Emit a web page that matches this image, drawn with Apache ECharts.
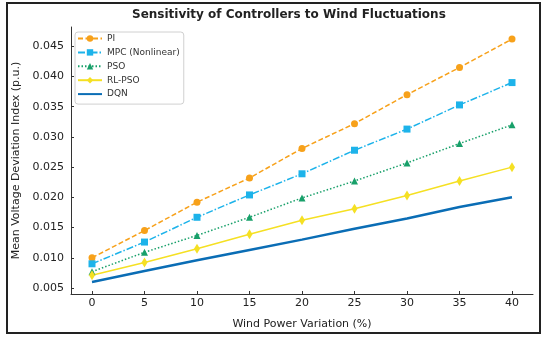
<!DOCTYPE html>
<html>
<head>
<meta charset="utf-8">
<script src="https://cdn.jsdelivr.net/npm/echarts@6/dist/echarts.min.js"></script>
<style>html,body{margin:0;padding:0;background:#fff}#c{width:550px;height:341px}</style>
</head>
<body>
<div id="c"></div>
<script>
const windVariation = [0, 5, 10, 15, 20, 25, 30, 35, 40];
const piValues     = [0.0100, 0.0145, 0.0192, 0.0232, 0.0281, 0.0322, 0.0370, 0.0415, 0.0462];
const mpcValues    = [0.0090, 0.0126, 0.0167, 0.0204, 0.0239, 0.0278, 0.0313, 0.0353, 0.0390];
const psoValues    = [0.0077, 0.0109, 0.0137, 0.0167, 0.0199, 0.0227, 0.0257, 0.0289, 0.0320];
const rlpsoValues  = [0.0071, 0.0092, 0.0115, 0.0139, 0.0162, 0.0181, 0.0203, 0.0227, 0.0250];
const dqnValues    = [0.0060, 0.0078, 0.0096, 0.0113, 0.0130, 0.0148, 0.0165, 0.0184, 0.0200];
const xTicks = [0, 5, 10, 15, 20, 25, 30, 35, 40];
const yTicks = [0.005, 0.010, 0.015, 0.020, 0.025, 0.030, 0.035, 0.040, 0.045];
const seriesNames = ['PI', 'MPC (Nonlinear)', 'PSO', 'RL-PSO', 'DQN'];

const FONT = 'DejaVu Sans';
const pair = v => windVariation.map((x, i) => [x, v[i]]);

const chart = echarts.init(document.getElementById('c'), null, {renderer: 'canvas'});
chart.setOption({
  animation: false,
  backgroundColor: '#fff',
  title: {
    text: 'Sensitivity of Controllers to Wind Fluctuations',
    left: 132, top: 9, padding: 0,
    textStyle: {fontFamily: FONT, fontSize: 12, fontWeight: 'bold', color: '#222'}
  },
  graphic: [{
    type: 'rect', shape: {x: 7, y: 3, width: 533, height: 330},
    style: {fill: 'none', stroke: '#222', lineWidth: 2}, silent: true
  }],
  legend: {
    orient: 'vertical', left: 75, top: 32,
    padding: [1.5, 4, 5, 2], itemGap: 3.9, itemWidth: 24, itemHeight: 8,
    backgroundColor: '#fff', borderColor: '#d0d0d0', borderWidth: 1, borderRadius: 3,
    textStyle: {fontFamily: FONT, fontSize: 9, color: '#333', lineHeight: 10},
    data: seriesNames.map(n => n === 'DQN' ? {name: n, itemStyle: {opacity: 0}} : n)
  },
  grid: {left: 71, right: 17, top: 27, bottom: 47, containLabel: false},
  xAxis: {
    type: 'value', min: -2, max: 42,
    name: 'Wind Power Variation (%)', nameLocation: 'middle', nameGap: 25,
    nameTextStyle: {fontFamily: FONT, fontSize: 11, color: '#222'},
    axisLine: {show: true, onZero: false, lineStyle: {color: '#333', width: 1}},
    axisTick: {show: true, inside: true, length: 3, customValues: xTicks, lineStyle: {color: '#333'}},
    axisLabel: {customValues: xTicks, margin: 4, fontFamily: FONT, fontSize: 11, color: '#222'},
    splitLine: {show: false}
  },
  yAxis: {
    type: 'value', min: 0.004, max: 0.0482,
    name: 'Mean Voltage Deviation Index (p.u.)', nameLocation: 'middle', nameGap: 44, nameRotate: 90,
    nameTextStyle: {fontFamily: FONT, fontSize: 11, color: '#222'},
    axisLine: {show: true, onZero: false, lineStyle: {color: '#333', width: 1}},
    axisTick: {show: true, inside: true, length: 3, customValues: yTicks, lineStyle: {color: '#333'}},
    axisLabel: {customValues: yTicks, margin: 7, fontFamily: FONT, fontSize: 11, color: '#222',
      formatter: v => v.toFixed(3)},
    splitLine: {show: false}
  },
  series: [
    {name: 'PI', type: 'line', data: pair(piValues), symbol: 'circle', symbolSize: 7,
     itemStyle: {color: '#F7A11A'}, lineStyle: {color: '#F7A11A', width: 1.5, type: [5, 2.5]}},
    {name: 'MPC (Nonlinear)', type: 'line', data: pair(mpcValues), symbol: 'rect', symbolSize: 7,
     itemStyle: {color: '#1DB3EA'}, lineStyle: {color: '#1DB3EA', width: 1.5, type: [7, 2, 1.5, 2]}},
    {name: 'PSO', type: 'line', data: pair(psoValues), symbol: 'triangle', symbolSize: 7,
     itemStyle: {color: '#18A06A'}, lineStyle: {color: '#18A06A', width: 1.5, type: [1.5, 2]}},
    {name: 'RL-PSO', type: 'line', data: pair(rlpsoValues), symbol: 'diamond', symbolSize: [6, 10],
     itemStyle: {color: '#F5E023'}, lineStyle: {color: '#F5E023', width: 1.5}},
    {name: 'DQN', type: 'line', data: pair(dqnValues), symbol: 'none', showSymbol: false,
     itemStyle: {color: '#0A6DB5'}, lineStyle: {color: '#0A6DB5', width: 2.5}}
  ]
});
</script>
</body>
</html>
